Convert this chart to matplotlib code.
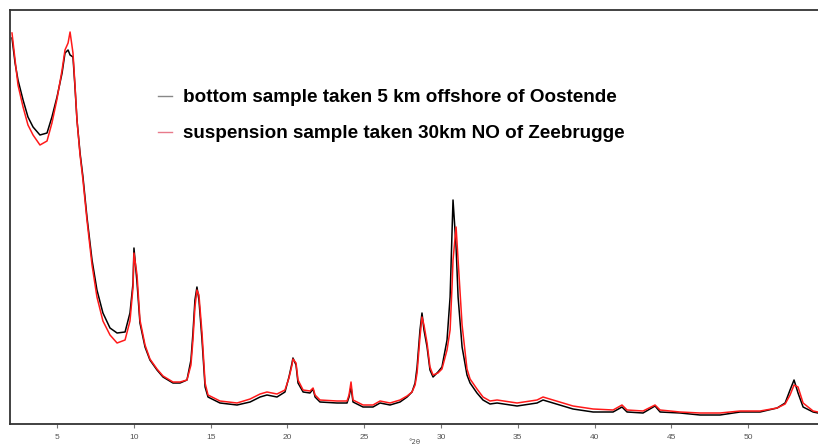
import matplotlib
matplotlib.use("Agg")
import matplotlib.pyplot as plt

# Diffraction angle (degrees 2-theta)
two_theta = [2.07, 2.27, 2.46, 2.79, 3.11, 3.44, 3.89, 4.35, 4.67, 5.00, 5.33, 5.52,
             5.72, 5.85, 6.04, 6.17, 6.30, 6.50, 6.69, 6.95, 7.28, 7.60, 7.99, 8.45,
             8.91, 9.43, 9.75, 9.95, 10.01, 10.21, 10.40, 10.73, 11.05, 11.51, 11.90,
             12.55, 13.01, 13.46, 13.72, 13.85, 13.98, 14.11, 14.24, 14.44, 14.64,
             14.83, 15.61, 16.72, 17.57, 18.22, 18.67, 19.32, 19.84, 20.10, 20.30,
             20.36, 20.56, 20.69, 21.02, 21.47, 21.67, 21.80, 22.12, 23.23, 23.88,
             24.01, 24.14, 24.27, 24.92, 25.57, 26.03, 26.68, 27.33, 27.79, 28.11,
             28.31, 28.44, 28.63, 28.76, 28.89, 29.09, 29.28, 29.48, 29.80, 30.06,
             30.39, 30.59, 30.72, 30.78, 30.98, 31.11, 31.37, 31.69, 31.89, 32.34,
             32.73, 33.19, 33.65, 34.95, 36.25, 36.64, 37.29, 38.59, 39.90, 41.20,
             41.78, 42.11, 43.15, 43.93, 44.26, 45.56, 46.86, 48.16, 49.47, 50.77,
             51.88, 52.40, 52.72, 52.98, 53.24, 53.57, 54.22, 54.54]

# Intensity, bottom sample (black)
bottom_sample = [387, 362, 345, 325, 308, 298, 290, 292, 308, 328, 352, 372,
                 375, 370, 368, 338, 305, 272, 248, 208, 165, 135, 112, 97,
                 92, 93, 112, 142, 177, 142, 102, 78, 65, 55, 48,
                 42, 42, 45, 65, 92, 125, 138, 125, 85, 38,
                 28, 22, 20, 23, 28, 30, 28, 33, 48, 62,
                 67, 60, 42, 33, 32, 36, 28, 23, 22, 22,
                 28, 38, 23, 18, 18, 22, 20, 23, 28, 33,
                 42, 58, 95, 112, 95, 78, 55, 48, 53, 58,
                 85, 128, 195, 225, 178, 128, 78, 50, 42, 32,
                 25, 21, 22, 19, 22, 25, 22, 16, 13, 13,
                 18, 13, 12, 19, 13, 12, 10, 10, 13, 13,
                 17, 22, 35, 45, 32, 18, 13, 12]

# Intensity, suspension sample (red)
suspension_sample = [392, 365, 340, 318, 300, 290, 280, 284, 302, 326, 355, 375,
                     382, 393, 372, 340, 305, 270, 245, 205, 160, 128, 104, 90,
                     82, 85, 104, 138, 172, 150, 105, 80, 66, 56, 49,
                     43, 43, 45, 60, 85, 118, 135, 130, 92, 42,
                     30, 24, 22, 26, 31, 33, 31, 35, 47, 60,
                     66, 62, 45, 35, 34, 37, 30, 25, 24, 24,
                     30, 43, 25, 20, 20, 24, 22, 25, 29, 33,
                     40, 52, 88, 108, 100, 82, 58, 50, 52, 56,
                     75, 95, 140, 165, 198, 165, 100, 56, 46, 36,
                     28, 24, 25, 22, 25, 28, 25, 19, 16, 15,
                     20, 15, 14, 20, 15, 13, 12, 12, 14, 14,
                     17, 21, 30, 40, 38, 22, 14, 13]

xticks = [5, 10, 15, 20, 25, 30, 35, 40, 45, 50]
legend_labels = ["bottom sample taken 5 km offshore of Oostende",
                 "suspension sample taken 30km NO of Zeebrugge"]

fig = plt.figure(figsize=(8.18, 4.48), dpi=100)
ax = fig.add_axes([10 / 818, (448 - 424) / 448, 1 - 10 / 818, (424 - 10) / 448])

ax.plot(two_theta, bottom_sample, color="black", lw=1.1, label=legend_labels[0])
ax.plot(two_theta, suspension_sample, color="#ff1a1a", lw=1.1, label=legend_labels[1])

ax.set_xlim(1.94, 54.54)
ax.set_ylim(1, 415)
ax.set_yticks([])
ax.set_xticks(xticks)
ax.set_xticklabels([str(t) for t in xticks], fontsize=6, color="#555555",
                   family="Liberation Sans")
ax.tick_params(axis="x", direction="out", length=3, width=0.8, color="#777777", pad=4)

for side in ("left", "top", "bottom"):
    ax.spines[side].set_linewidth(1.3)
    ax.spines[side].set_color("#333333")
ax.spines["right"].set_visible(False)

ax.set_xlabel("°2θ", fontsize=5, color="#555555", labelpad=-1.5)

leg = ax.legend(loc="upper left", bbox_to_anchor=((158 - 10) / 808, 1 - (89 - 10) / 414),
                frameon=False, borderpad=0, borderaxespad=0,
                handlelength=0.75, handletextpad=0.58,
                labelspacing=1.0,
                prop={"family": "Liberation Sans", "weight": "bold", "size": 13.6})
leg.get_lines()[0].set_color("#888888")
leg.get_lines()[1].set_color("#e87a8a")
for ln in leg.get_lines():
    ln.set_linewidth(1.0)

fig.savefig("out.png", dpi=100)
